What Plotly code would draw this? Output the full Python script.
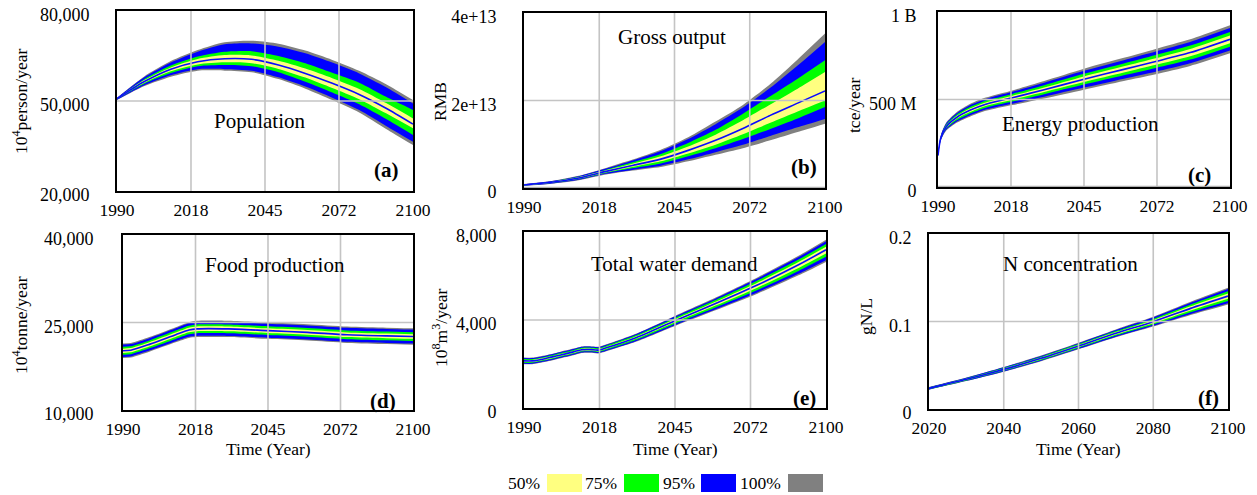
import plotly.graph_objects as go

# ---------------- data ----------------
# (a) Population, 10^4 person/year
A_YEARS = [1990, 2000, 2010, 2020, 2030, 2040, 2050, 2060, 2070, 2080, 2090, 2100]
A_MED = [50800, 56400, 60600, 63100, 64100, 63900, 62000, 59200, 55900, 52200, 47600, 42300]
A_P50_HI = [50900, 56900, 61200, 64000, 65300, 65200, 63400, 60800, 57600, 54000, 49300, 44200]
A_P50_LO = [50700, 56000, 59900, 62200, 62900, 62600, 60700, 57800, 54300, 50600, 45900, 40900]
A_P75_HI = [50900, 57200, 61800, 64800, 66400, 66600, 65000, 62600, 59400, 56100, 51400, 47000]
A_P75_LO = [50600, 55700, 59300, 61600, 62000, 61600, 59600, 56400, 52800, 48900, 44000, 38700]
A_P95_HI = [51000, 57800, 62800, 66400, 68900, 69200, 68100, 65900, 62800, 59200, 54600, 49200]
A_P95_LO = [50400, 55200, 58600, 60600, 60600, 60100, 57900, 54800, 51100, 47000, 41700, 36400]
A_P100_HI = [51100, 58100, 63300, 67000, 69600, 70100, 69100, 66800, 63700, 60100, 55600, 50300]
A_P100_LO = [50300, 54900, 58100, 60100, 60100, 59600, 57300, 54100, 50300, 46200, 40700, 35300]

# (b) Gross output, RMB
B_YEARS = [1990, 2000, 2010, 2020, 2030, 2040, 2050, 2060, 2070, 2080, 2090, 2100]
B_MED = [0.7e12, 1.3e12, 2.3e12, 3.8e12, 5.2e12, 6.6e12, 8.6e12, 10.9e12, 13.6e12, 16.6e12, 19.4e12, 22.2e12]
B_P50_HI = [0.75e12, 1.4e12, 2.45e12, 4.05e12, 5.6e12, 7.25e12, 9.5e12, 12.2e12, 15.5e12, 19.1e12, 22.7e12, 26.5e12]
B_P50_LO = [0.65e12, 1.2e12, 2.15e12, 3.6e12, 4.85e12, 6.1e12, 7.9e12, 9.9e12, 12.3e12, 14.9e12, 17.5e12, 20.0e12]
B_P75_HI = [0.8e12, 1.45e12, 2.55e12, 4.2e12, 5.95e12, 7.8e12, 10.3e12, 13.3e12, 17.0e12, 21.0e12, 25.0e12, 29.2e12]
B_P75_LO = [0.6e12, 1.15e12, 2.05e12, 3.45e12, 4.55e12, 5.6e12, 7.25e12, 9.1e12, 11.2e12, 13.5e12, 15.9e12, 18.5e12]
B_P95_HI = [0.85e12, 1.55e12, 2.7e12, 4.45e12, 6.35e12, 8.45e12, 11.2e12, 14.6e12, 18.4e12, 22.9e12, 28.0e12, 33.4e12]
B_P95_LO = [0.55e12, 1.05e12, 1.9e12, 3.25e12, 4.2e12, 5.1e12, 6.55e12, 8.2e12, 9.9e12, 11.9e12, 13.9e12, 15.8e12]
B_P100_HI = [0.9e12, 1.6e12, 2.8e12, 4.6e12, 6.55e12, 8.75e12, 11.6e12, 15.2e12, 19.0e12, 23.8e12, 29.4e12, 35.3e12]
B_P100_LO = [0.5e12, 1.0e12, 1.8e12, 3.1e12, 4.0e12, 4.8e12, 6.1e12, 7.6e12, 9.1e12, 10.9e12, 12.8e12, 14.7e12]

# (c) Energy production, tce/year
C_YEARS = [1990, 1991, 1993, 1997, 2002, 2008, 2018, 2030, 2045, 2060, 2072, 2085, 2100]
C_MED = [180e6, 277e6, 343e6, 397e6, 438e6, 473e6, 510e6, 556e6, 616e6, 672e6, 717e6, 768e6, 844e6]
C_P50_HI = [181e6, 281e6, 349e6, 405e6, 448e6, 483e6, 521e6, 569e6, 632e6, 690e6, 736e6, 789e6, 866e6]
C_P50_LO = [179e6, 273e6, 337e6, 389e6, 428e6, 463e6, 499e6, 543e6, 600e6, 654e6, 698e6, 747e6, 822e6]
C_P75_HI = [183e6, 285e6, 355e6, 413e6, 457e6, 493e6, 532e6, 582e6, 647e6, 706e6, 754e6, 808e6, 886e6]
C_P75_LO = [177e6, 269e6, 331e6, 381e6, 419e6, 453e6, 488e6, 530e6, 585e6, 638e6, 680e6, 728e6, 802e6]
C_P95_HI = [184e6, 289e6, 361e6, 421e6, 467e6, 503e6, 544e6, 596e6, 664e6, 725e6, 775e6, 829e6, 908e6]
C_P95_LO = [176e6, 265e6, 325e6, 373e6, 409e6, 443e6, 476e6, 516e6, 568e6, 619e6, 659e6, 707e6, 780e6]
C_P100_HI = [185e6, 292e6, 366e6, 427e6, 474e6, 511e6, 552e6, 606e6, 676e6, 738e6, 789e6, 844e6, 924e6]
C_P100_LO = [175e6, 262e6, 320e6, 367e6, 402e6, 435e6, 468e6, 506e6, 556e6, 606e6, 645e6, 692e6, 764e6]

# (d) Food production, 10^4 tonne/year
D_YEARS = [1990, 1993, 2000, 2010, 2015, 2018, 2030, 2045, 2060, 2075, 2090, 2100]
D_MED = [20150, 20250, 21250, 22900, 23700, 23900, 23900, 23600, 23300, 22900, 22700, 22600]
D_P50_HI = [20510, 20610, 21610, 23280, 24090, 24300, 24300, 24000, 23700, 23300, 23100, 23000]
D_P50_LO = [19790, 19890, 20890, 22520, 23310, 23500, 23500, 23200, 22900, 22500, 22300, 22200]
D_P75_HI = [20830, 20930, 21930, 23610, 24430, 24650, 24650, 24350, 24050, 23650, 23450, 23350]
D_P75_LO = [19470, 19570, 20570, 22190, 22970, 23150, 23150, 22850, 22550, 22150, 21950, 21850]
D_P95_HI = [21220, 21320, 22320, 24010, 24860, 25100, 25100, 24800, 24500, 24100, 23900, 23800]
D_P95_LO = [19080, 19180, 20180, 21790, 22540, 22700, 22700, 22400, 22100, 21700, 21500, 21400]
D_P100_HI = [21400, 21500, 22500, 24200, 25050, 25300, 25300, 25000, 24700, 24300, 24100, 24000]
D_P100_LO = [18900, 19000, 20000, 21600, 22350, 22500, 22500, 22200, 21900, 21500, 21300, 21200]

# (e) Total water demand, 10^8 m3/year
E_YEARS = [1990, 1993, 1998, 2003, 2008, 2011, 2014, 2017, 2020, 2031, 2045, 2060, 2075, 2090, 2100]
E_MED = [2140, 2140, 2250, 2400, 2550, 2650, 2660, 2630, 2740, 3210, 3970, 4760, 5590, 6510, 7190]
E_P50_HI = [2185, 2185, 2295, 2445, 2595, 2695, 2705, 2675, 2785, 3265, 4035, 4840, 5695, 6635, 7330]
E_P50_LO = [2095, 2095, 2205, 2355, 2505, 2605, 2615, 2585, 2690, 3155, 3900, 4665, 5470, 6365, 7025]
E_P75_HI = [2225, 2225, 2335, 2485, 2635, 2735, 2745, 2715, 2830, 3315, 4095, 4915, 5790, 6750, 7455]
E_P75_LO = [2055, 2055, 2165, 2315, 2465, 2565, 2575, 2545, 2645, 3100, 3830, 4580, 5360, 6230, 6870]
E_P95_HI = [2270, 2270, 2380, 2530, 2680, 2780, 2790, 2760, 2870, 3365, 4155, 4990, 5885, 6860, 7580]
E_P95_LO = [2010, 2010, 2120, 2270, 2420, 2520, 2530, 2500, 2605, 3050, 3765, 4495, 5255, 6100, 6720]
E_P100_HI = [2290, 2290, 2400, 2550, 2700, 2800, 2810, 2780, 2895, 3390, 4185, 5030, 5935, 6920, 7650]
E_P100_LO = [1990, 1990, 2100, 2250, 2400, 2500, 2510, 2480, 2580, 3020, 3730, 4450, 5195, 6030, 6640]

# (f) N concentration, gN/L
F_YEARS = [2020, 2030, 2040, 2050, 2060, 2070, 2080, 2090, 2100]
F_MED = [0.0236, 0.0339, 0.0453, 0.0579, 0.0720, 0.0865, 0.0998, 0.1150, 0.1290]
F_P50_HI = [0.0241, 0.0345, 0.0461, 0.0589, 0.0731, 0.0879, 0.1015, 0.1173, 0.1319]
F_P50_LO = [0.0231, 0.0333, 0.0445, 0.0569, 0.0709, 0.0851, 0.0981, 0.1127, 0.1261]
F_P75_HI = [0.0245, 0.0351, 0.0469, 0.0598, 0.0742, 0.0891, 0.1030, 0.1194, 0.1345]
F_P75_LO = [0.0227, 0.0327, 0.0437, 0.0560, 0.0698, 0.0839, 0.0966, 0.1106, 0.1235]
F_P95_HI = [0.0249, 0.0356, 0.0476, 0.0606, 0.0752, 0.0903, 0.1045, 0.1214, 0.1371]
F_P95_LO = [0.0223, 0.0322, 0.0430, 0.0552, 0.0688, 0.0827, 0.0951, 0.1086, 0.1209]
F_P100_HI = [0.0251, 0.0359, 0.0480, 0.0611, 0.0758, 0.0910, 0.1053, 0.1225, 0.1385]
F_P100_LO = [0.0221, 0.0319, 0.0426, 0.0547, 0.0682, 0.0820, 0.0943, 0.1075, 0.1195]

# tick labels
X_TICKS = [1990, 2017.5, 2045, 2072.5, 2100]
X_TEXT = ["1990", "2018", "2045", "2072", "2100"]
XF_TICKS = [2020, 2040, 2060, 2080, 2100]
XF_TEXT = ["2020", "2040", "2060", "2080", "2100"]
A_YT = [20000, 50000, 80000]; A_YTT = ["20,000", "50,000", "80,000"]
B_YT = [0, 2e13, 4e13]; B_YTT = ["0", "2e+13", "4e+13"]
C_YT = [0, 5e8, 1e9]; C_YTT = ["0", "500 M", "1 B"]
D_YT = [10000, 25000, 40000]; D_YTT = ["10,000", "25,000", "40,000"]
E_YT = [0, 4000, 8000]; E_YTT = ["0", "4,000", "8,000"]
F_YT = [0, 0.1, 0.2]; F_YTT = ["0", "0.1", "0.2"]

TITLES = ["Population", "Gross output", "Energy production",
          "Food production", "Total water demand", "N concentration"]
TAGS = ["(a)", "(b)", "(c)", "(d)", "(e)", "(f)"]
YLABELS = ["10<sup>4</sup>person/year", "RMB", "tce/year",
           "10<sup>4</sup>tonne/year", "10<sup>8</sup>m<sup>3</sup>/year", "gN/L"]
LEGEND_LABELS = ["50%", "75%", "95%", "100%"]

# ---------------- styling ----------------
W, H = 1257, 495
FONT = "Liberation Serif, Times New Roman, serif"
COL = {"100": "#808080", "95": "#0000FF", "75": "#00FF00", "50": "#FFFF80"}
MED_COL = "#0A0AFF"
GRID = "#C4C4C4"


def px(x):
    return x / W


def py(y):
    return 1 - y / H


panels = [
    dict(xs=A_YEARS, med=A_MED,
         bands=[("100", A_P100_LO, A_P100_HI), ("95", A_P95_LO, A_P95_HI),
                ("75", A_P75_LO, A_P75_HI), ("50", A_P50_LO, A_P50_HI)],
         frame=(117, 413, 11, 191), xr=[1990, 2100], xt=X_TICKS, xtt=X_TEXT,
         yr=[20000, 80000], yt=A_YT, ytt=A_YTT, ystand=22,
         title=(260, 121), tag=(386, 170), ylab=(20, 102), zero_gray=False),
    dict(xs=B_YEARS, med=B_MED,
         bands=[("100", B_P100_LO, B_P100_HI), ("95", B_P95_LO, B_P95_HI),
                ("75", B_P75_LO, B_P75_HI), ("50", B_P50_LO, B_P50_HI)],
         frame=(524, 825, 13, 188), xr=[1990, 2100], xt=X_TICKS, xtt=X_TEXT,
         yr=[0, 4e13], yt=B_YT, ytt=B_YTT, ystand=22,
         title=(672, 37), tag=(804, 167), ylab=(440, 102), zero_gray=True),
    dict(xs=C_YEARS, med=C_MED,
         bands=[("100", C_P100_LO, C_P100_HI), ("95", C_P95_LO, C_P95_HI),
                ("75", C_P75_LO, C_P75_HI), ("50", C_P50_LO, C_P50_HI)],
         frame=(938, 1230, 12, 187), xr=[1990, 2100], xt=X_TICKS, xtt=X_TEXT,
         yr=[0, 1e9], yt=C_YT, ytt=C_YTT, ystand=16,
         title=(1080, 124), tag=(1199, 175), ylab=(854, 105), zero_gray=True),
    dict(xs=D_YEARS, med=D_MED,
         bands=[("100", D_P100_LO, D_P100_HI), ("95", D_P95_LO, D_P95_HI),
                ("75", D_P75_LO, D_P75_HI), ("50", D_P50_LO, D_P50_HI)],
         frame=(123, 413, 235, 410), xr=[1990, 2100], xt=X_TICKS, xtt=X_TEXT,
         yr=[10000, 40000], yt=D_YT, ytt=D_YTT, ystand=24,
         title=(275, 265), tag=(383, 401), ylab=(20, 325), zero_gray=False),
    dict(xs=E_YEARS, med=E_MED,
         bands=[("100", E_P100_LO, E_P100_HI), ("95", E_P95_LO, E_P95_HI),
                ("75", E_P75_LO, E_P75_HI), ("50", E_P50_LO, E_P50_HI)],
         frame=(524, 826, 232, 408), xr=[1990, 2100], xt=X_TICKS, xtt=X_TEXT,
         yr=[0, 8000], yt=E_YT, ytt=E_YTT, ystand=22,
         title=(674, 264), tag=(804, 398), ylab=(440, 328), zero_gray=False),
    dict(xs=F_YEARS, med=F_MED,
         bands=[("100", F_P100_LO, F_P100_HI), ("95", F_P95_LO, F_P95_HI),
                ("75", F_P75_LO, F_P75_HI), ("50", F_P50_LO, F_P50_HI)],
         frame=(929, 1228, 234, 409), xr=[2020, 2100], xt=XF_TICKS, xtt=XF_TEXT,
         yr=[0, 0.2], yt=F_YT, ytt=F_YTT, ystand=12,
         title=(1070, 264), tag=(1208, 398), ylab=(866, 317), zero_gray=False),
]

fig = go.Figure()
shapes = []
annotations = []
layout_axes = {}

for i, p in enumerate(panels, start=1):
    sfx = "" if i == 1 else str(i)
    xa, ya = f"x{sfx}", f"y{sfx}"
    for key, lo, hi in p["bands"]:
        fig.add_trace(go.Scatter(x=p["xs"], y=lo, mode="lines", xaxis=xa, yaxis=ya,
                                 line=dict(width=0, shape="spline", smoothing=0.7),
                                 hoverinfo="skip", showlegend=False))
        fig.add_trace(go.Scatter(x=p["xs"], y=hi, mode="lines", xaxis=xa, yaxis=ya,
                                 fill="tonexty", fillcolor=COL[key],
                                 line=dict(width=0, shape="spline", smoothing=0.7),
                                 hoverinfo="skip", showlegend=False))
    fig.add_trace(go.Scatter(x=p["xs"], y=p["med"], mode="lines", xaxis=xa, yaxis=ya,
                             line=dict(width=1.6, color=MED_COL, shape="spline", smoothing=0.7),
                             showlegend=False))

    x0, x1, y0, y1 = p["frame"]
    layout_axes[f"xaxis{sfx}"] = dict(
        domain=[px(x0), px(x1)], range=p["xr"], anchor=ya, automargin=False,
        tickmode="array", tickvals=p["xt"], ticktext=p["xtt"], ticks="",
        showgrid=False, zeroline=False, showline=True, mirror=True,
        linecolor="black", linewidth=2, ticklabeloverflow="allow",
        tickfont=dict(family=FONT, size=17.5, color="black"), ticklabelstandoff=2,
        fixedrange=True)
    layout_axes[f"yaxis{sfx}"] = dict(
        domain=[py(y1), py(y0)], range=p["yr"], anchor=xa, automargin=False,
        tickmode="array", tickvals=p["yt"], ticktext=p["ytt"], ticks="",
        showgrid=False, zeroline=False, showline=True, mirror=True,
        linecolor="black", linewidth=2, ticklabeloverflow="allow",
        tickfont=dict(family=FONT, size=18, color="black"),
        ticklabelstandoff=p["ystand"], ticklabelshift=4, fixedrange=True)

    # grid lines drawn above the bands
    for xv in p["xt"][1:-1]:
        shapes.append(dict(type="line", xref=xa, yref=f"{ya} domain", x0=xv, x1=xv,
                           y0=0, y1=1, line=dict(color=GRID, width=1.6), layer="above"))
    ymid = p["yt"][1]
    shapes.append(dict(type="line", xref=f"{xa} domain", yref=ya, x0=0, x1=1,
                       y0=ymid, y1=ymid, line=dict(color=GRID, width=1.6), layer="above"))
    if p["zero_gray"]:
        shapes.append(dict(type="line", xref=f"{xa} domain", yref=ya, x0=0, x1=1,
                           y0=p["yr"][0], y1=p["yr"][0],
                           line=dict(color="#B0B0B0", width=2.5), layer="above"))

    tx, ty = p["title"]
    annotations.append(dict(text=TITLES[i - 1], xref="paper", yref="paper",
                            x=px(tx), y=py(ty), xanchor="center", yanchor="middle",
                            showarrow=False, font=dict(family=FONT, size=21, color="black")))
    gx, gy = p["tag"]
    annotations.append(dict(text=f"<b>{TAGS[i - 1]}</b>", xref="paper", yref="paper",
                            x=px(gx), y=py(gy), xanchor="center", yanchor="middle",
                            showarrow=False, font=dict(family=FONT, size=21, color="black")))
    lx, ly = p["ylab"]
    annotations.append(dict(text=YLABELS[i - 1], xref="paper", yref="paper",
                            x=px(lx), y=py(ly), xanchor="center", yanchor="middle",
                            textangle=-90, showarrow=False,
                            font=dict(family=FONT, size=17.5, color="black")))
    if i >= 4:
        annotations.append(dict(text="Time (Year)", xref="paper", yref="paper",
                                x=px((x0 + x1) / 2), y=py(449), xanchor="center",
                                yanchor="middle", showarrow=False,
                                font=dict(family=FONT, size=17.5, color="black")))

# custom legend: label then swatch
legend_items = [("50", 524, 547), ("75", 601, 624), ("95", 678.5, 701), ("100", 760, 788)]
for (key, tx, sx), lab in zip(legend_items, LEGEND_LABELS):
    annotations.append(dict(text=lab, xref="paper", yref="paper", x=px(tx), y=py(483),
                            xanchor="center", yanchor="middle", showarrow=False,
                            font=dict(family=FONT, size=17.5, color="black")))
    shapes.append(dict(type="rect", xref="paper", yref="paper",
                       x0=px(sx), x1=px(sx + 35), y0=py(492), y1=py(474),
                       fillcolor=COL[key], line=dict(width=0), layer="above"))

fig.update_layout(
    width=W, height=H, autosize=False,
    margin=dict(l=0, r=0, t=0, b=0, pad=0, autoexpand=False),
    paper_bgcolor="white", plot_bgcolor="white",
    showlegend=False, shapes=shapes, annotations=annotations,
    font=dict(family=FONT, size=17, color="black"),
    **layout_axes,
)

fig.write_html("out.html")
